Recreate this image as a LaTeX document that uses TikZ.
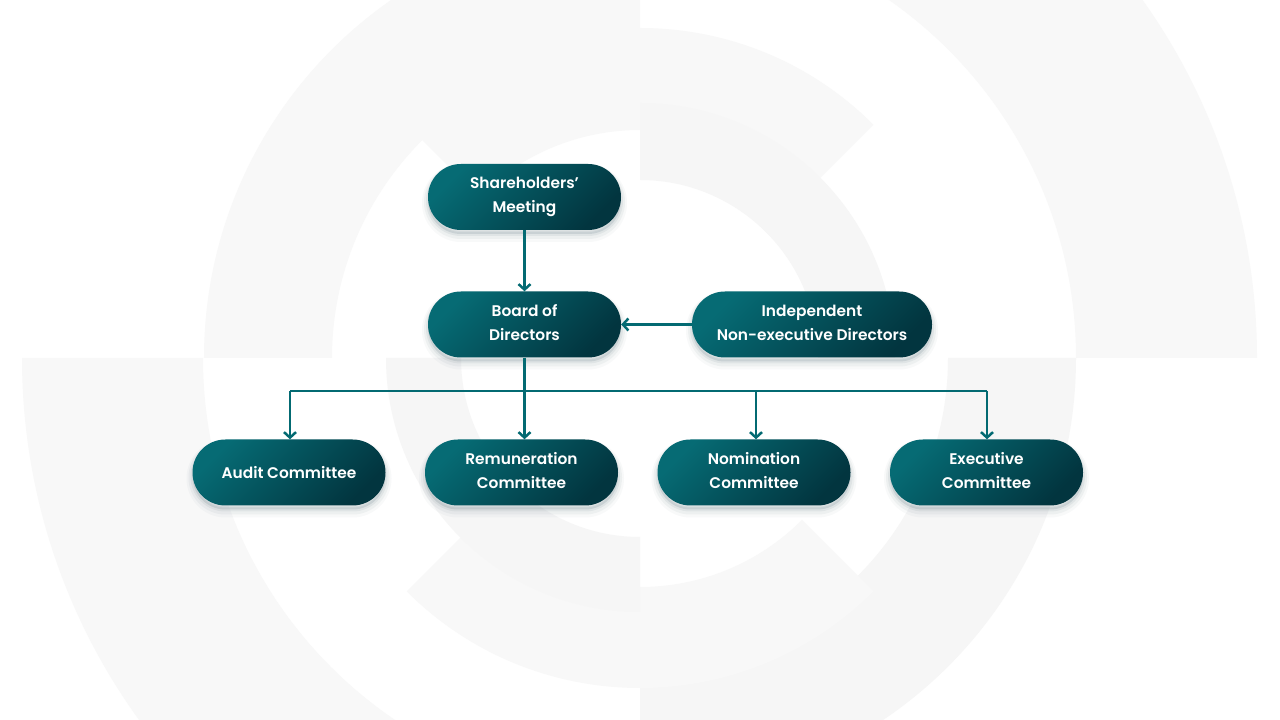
\documentclass[tikz,border=0pt]{standalone}
\usepackage{fontspec}
\setmainfont{Poppins}[BoldFont={Poppins SemiBold}]
\usetikzlibrary{arrows.meta}
\definecolor{teallight}{HTML}{066B74}
\definecolor{tealdark}{HTML}{02353F}
\definecolor{linecol}{HTML}{036A72}
\definecolor{shadowcol}{HTML}{2F4F5A}
\definecolor{bgA}{HTML}{F8F8F8}
\definecolor{bgB}{HTML}{F6F6F6}
\newcommand\ringsec[5]{\fill[#5] (#1:#3pt) arc[start angle=#1, end angle=#2, radius=#3pt] -- (#2:#4pt) arc[start angle=#2, end angle=#1, radius=#4pt] -- cycle;}
\newcommand\lowpad{\rule[-4pt]{0pt}{0pt}}
\tikzset{
  pill/.style={rectangle, rounded corners=32.9pt, minimum width=193pt, minimum height=66pt,
    inner sep=0pt, top color=teallight, bottom color=tealdark, shading angle=45,
    text=white, align=center, font=\fontsize{15.4}{24}\selectfont\bfseries,
    preaction={draw=shadowcol, line width=12pt, draw opacity=0.03, transform canvas={yshift=-6pt}},
    preaction={draw=shadowcol, line width=8pt, draw opacity=0.05, transform canvas={yshift=-5pt}},
    preaction={draw=shadowcol, line width=4pt, draw opacity=0.07, transform canvas={yshift=-4pt}},
    preaction={fill=shadowcol, fill opacity=0.12, transform canvas={yshift=-4pt}}},
  conn/.style={draw=linecol, line width=2.7pt, -{Straight Barb[length=5.5pt,width=12pt,line width=2.5pt]}},
  bus/.style={draw=linecol, line width=2.7pt}
}
\begin{document}
\begin{tikzpicture}[x=1pt,y=1pt]
\useasboundingbox (0,0) rectangle (1280,720);
\fill[white] (0,0) rectangle (1280,720);
% background decoration
\begin{scope}[shift={(640,362)}]
  \ringsec{90}{180}{308}{436}{bgA}
  \ringsec{0}{90}{436}{617}{bgA}
  \ringsec{180}{270}{437}{618}{bgA}
  \ringsec{270}{360}{308}{436}{bgB}
  \ringsec{45}{135}{228}{330}{bgA}
  \ringsec{0}{90}{178}{255}{bgB}
  \ringsec{225}{315}{229}{330}{bgA}
  \ringsec{180}{270}{179}{254}{bgB}
\end{scope}
% nodes
\node[pill] (sh) at (524.5,523) {Shareholders’\\Meeting\lowpad};
\node[pill] (bd) at (524.5,395.5) {Board of\\Directors\lowpad};
\node[pill, minimum width=240pt] (ind) at (812,395.5) {Independent\\Non-executive Directors\lowpad};
\node[pill] (audit) at (289,247.5) {Audit Committee};
\node[pill] (rem) at (521.5,247.5) {Remuneration\\Committee\lowpad};
\node[pill] (nom) at (754,247.5) {Nomination\\Committee\lowpad};
\node[pill] (exe) at (986.5,247.5) {Executive\\Committee\lowpad};
% connectors
\coordinate (busy) at (0,329);
\draw[conn] (sh.south) -- (bd.north);
\draw[conn] (ind.west) -- (bd.east);
\draw[bus] ([xshift=1pt]audit.north |- busy) -- ([xshift=0.5pt]exe.north |- busy);
\draw[conn] (bd.south) -- (bd.south |- rem.north);
\draw[conn] ([xshift=1pt]audit.north |- busy) -- ([xshift=1pt]audit.north);
\draw[conn] ([xshift=2pt]nom.north |- busy) -- ([xshift=2pt]nom.north);
\draw[conn] ([xshift=0.5pt]exe.north |- busy) -- ([xshift=0.5pt]exe.north);
\end{tikzpicture}
\end{document}
